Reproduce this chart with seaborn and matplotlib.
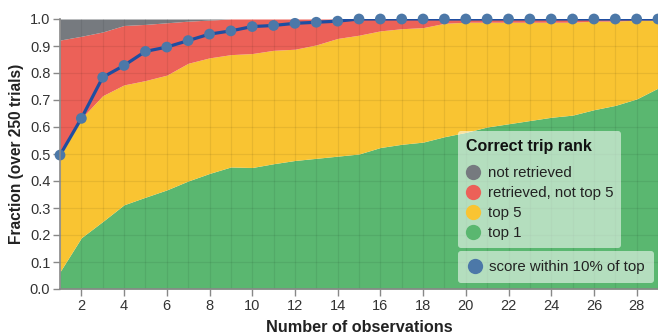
import numpy as np
import pandas as pd
import matplotlib
matplotlib.use("Agg")
import matplotlib.pyplot as plt
from matplotlib.lines import Line2D
import seaborn as sns

# Number of observations per trial set
n_obs = list(range(1, 30))

# Fraction of trials in each rank category (sums to 1 per observation count)
frac_top1 = [0.064, 0.19, 0.25, 0.312, 0.34, 0.367, 0.40, 0.428, 0.452, 0.45,
             0.464, 0.476, 0.484, 0.492, 0.50, 0.524, 0.536, 0.544, 0.564, 0.58,
             0.60, 0.612, 0.624, 0.636, 0.644, 0.664, 0.68, 0.704, 0.744]
frac_top5 = [0.426, 0.442, 0.466, 0.444, 0.432, 0.425, 0.436, 0.428, 0.416, 0.422,
             0.42, 0.412, 0.42, 0.436, 0.44, 0.432, 0.428, 0.424, 0.42, 0.408,
             0.388, 0.376, 0.364, 0.352, 0.344, 0.328, 0.312, 0.292, 0.252]
frac_retrieved = [0.432, 0.304, 0.236, 0.22, 0.208, 0.194, 0.156, 0.14, 0.132, 0.128,
                  0.116, 0.112, 0.096, 0.072, 0.06, 0.044, 0.036, 0.032, 0.016, 0.012,
                  0.012, 0.012, 0.012, 0.012, 0.012, 0.008, 0.008, 0.004, 0.004]
frac_not_retrieved = [0.078, 0.064, 0.048, 0.024, 0.02, 0.014, 0.008, 0.004, 0, 0,
                      0, 0, 0, 0, 0, 0, 0, 0, 0, 0,
                      0, 0, 0, 0, 0, 0, 0, 0, 0]

# Fraction of trials where the correct trip scores within 10% of the top score
frac_within10 = [0.496, 0.632, 0.784, 0.828, 0.88, 0.896, 0.92, 0.944, 0.956, 0.972,
                 0.976, 0.984, 0.988, 0.992, 1, 1, 1, 1, 1, 1,
                 1, 1, 1, 1, 1, 1, 1, 1, 1]

categories = ["top 1", "top 5", "retrieved, not top 5", "not retrieved"]
colors = {"top 1": "#5ab770", "top 5": "#f9c432",
          "retrieved, not top 5": "#ec6158", "not retrieved": "#767a7f"}
line_color = "#1f4ea1"
dot_color = "#4c78a8"

df = pd.DataFrame({"n": n_obs, "top 1": frac_top1, "top 5": frac_top5,
                   "retrieved, not top 5": frac_retrieved,
                   "not retrieved": frac_not_retrieved,
                   "within10": frac_within10})

sns.set_style("white")
plt.rcParams["font.family"] = ["Liberation Sans", "DejaVu Sans"]

fig = plt.figure(figsize=(6.58, 3.36), dpi=100)
ax = fig.add_axes([60 / 658, 47 / 336, 598 / 658, 270 / 336])

# Stacked areas
base = np.zeros(len(df))
for cat in categories:
    top = base + df[cat].to_numpy()
    ax.fill_between(df["n"], base, top, color=colors[cat], lw=0, zorder=1)
    base = top

# Grid lines over the areas, one per integer / per 0.1
for xv in n_obs:
    ax.axvline(xv, color="#000000", alpha=0.07, lw=0.9, zorder=2)
for yv in np.arange(0.1, 1.0, 0.1):
    ax.axhline(yv, color="#000000", alpha=0.07, lw=0.9, zorder=2)

sns.lineplot(data=df, x="n", y="within10", color=line_color, lw=2.3, ax=ax,
             zorder=4)
sns.scatterplot(data=df, x="n", y="within10", color=dot_color, s=60,
                edgecolor="none", ax=ax, zorder=5, clip_on=False)

ax.set_xlim(1, 29)
ax.set_ylim(0, 1.0)
ax.set_xticks(range(2, 29, 2))
ax.set_yticks(np.arange(0, 1.01, 0.1))
ax.set_yticklabels([f"{v:.1f}" for v in np.arange(0, 1.01, 0.1)])
ax.grid(False)
ax.tick_params(axis="both", which="major", length=5, width=1, color="#888888",
               labelsize=10.5, labelcolor="#333333", pad=2, bottom=True, left=True)
for side in ["top", "right"]:
    ax.spines[side].set_visible(False)
for side in ["left", "bottom"]:
    ax.spines[side].set_color("#888888")
    ax.spines[side].set_linewidth(1.2)
    ax.spines[side].set_zorder(6)

ax.set_xlabel("Number of observations", fontsize=11.7, fontweight="bold",
              color="#222222", labelpad=5)
ax.set_ylabel("Fraction (over 250 trials)", fontsize=11.2, fontweight="bold",
              color="#222222", labelpad=4)

# Legends
def dot(c):
    return Line2D([], [], ls="none", marker="o", markersize=11,
                  markerfacecolor=c, markeredgecolor="none")

rank_order = ["not retrieved", "retrieved, not top 5", "top 5", "top 1"]
leg1 = ax.legend([dot(colors[c]) for c in rank_order], rank_order,
                 title="Correct trip rank", loc="upper left",
                 bbox_to_anchor=(0.666, 0.585), fontsize=10.8,
                 title_fontproperties={"weight": "bold", "size": 11.5},
                 frameon=True, fancybox=True, framealpha=0.55,
                 facecolor="white", edgecolor="none", handletextpad=0.45,
                 labelspacing=0.4, borderpad=0.5, handlelength=1.0,
                 borderaxespad=0)
leg1._legend_box.align = "left"
leg1._legend_box.sep = 9.0
for t in leg1.get_texts():
    t.set_color("#222222")
leg1.get_title().set_color("#111111")
leg1.set_zorder(7)
ax.add_artist(leg1)

leg2 = ax.legend([dot(dot_color)], ["score within 10% of top"],
                 loc="upper left", bbox_to_anchor=(0.666, 0.141), fontsize=10.8,
                 frameon=True, fancybox=True, framealpha=0.55,
                 facecolor="white", edgecolor="none", handletextpad=0.45,
                 borderpad=0.6, handlelength=1.0, borderaxespad=0)
for t in leg2.get_texts():
    t.set_color("#222222")
leg2.set_zorder(7)

fig.savefig("out.png", dpi=100)
